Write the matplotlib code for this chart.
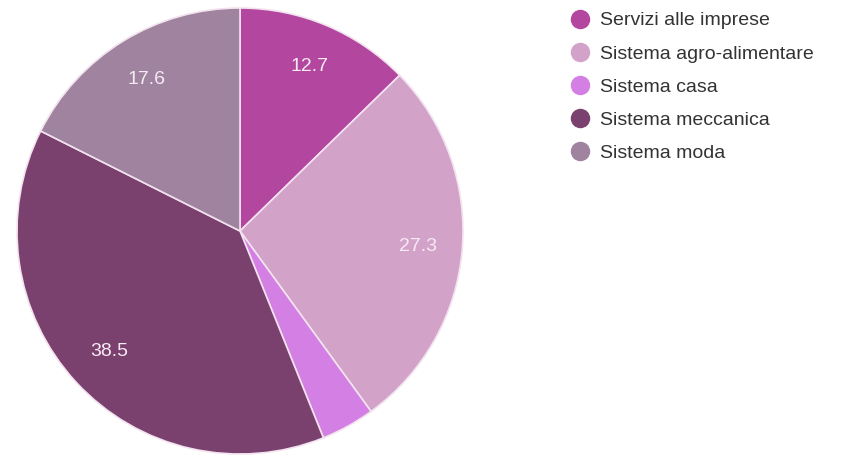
import matplotlib
matplotlib.use("Agg")
import matplotlib.pyplot as plt
from matplotlib.lines import Line2D

plt.rcParams['font.family'] = ['Liberation Sans', 'DejaVu Sans']

###Data
categories = ["Servizi alle imprese", "Sistema agro-alimentare", "Sistema casa",
              "Sistema meccanica", "Sistema moda"]
values = [12.7, 27.3, 3.9, 38.5, 17.6]
labels = ["12.7", "27.3", "", "38.5", "17.6"]
colors = ["#b3469f", "#d3a2c9", "#d47fe3", "#7a416f", "#a0839f"]

W, H = 846, 455
fig = plt.figure(figsize=(W / 100, H / 100), dpi=100)

###Pie axes placed in pixel coords
cx, cy, r = 240, 231, 223
ax = fig.add_axes([(cx - r) / W, 1 - (cy + r) / H, 2 * r / W, 2 * r / H])
wedges, texts = ax.pie(values, colors=colors, startangle=90, counterclock=False,
                       radius=1.0, labels=labels, labeldistance=0.8,
                       wedgeprops=dict(edgecolor="#f3e3ef", linewidth=1.2),
                       textprops=dict(color="#f6eaf3", fontsize=14, ha="center", va="center"))
ax.set_xlim(-1, 1)
ax.set_ylim(-1, 1)
ax.set_aspect("equal")
ax.axis("off")

###Legend
handles = [Line2D([], [], marker="o", linestyle="none", markersize=13,
                  markerfacecolor=c, markeredgecolor=c) for c in colors]
leg = fig.legend(handles, categories, loc="upper left",
                 bbox_to_anchor=(562 / W, 1 - 4 / H), frameon=False,
                 fontsize=14, labelspacing=0.8, handletextpad=0.53,
                 handlelength=1.0, borderaxespad=0)
for t in leg.get_texts():
    t.set_color("#333333")

fig.savefig("out.png", dpi=100)
